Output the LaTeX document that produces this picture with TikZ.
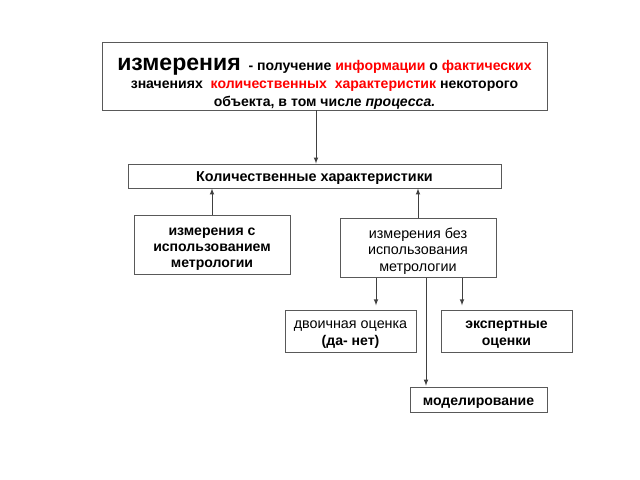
\documentclass[tikz,border=0pt]{standalone}
\usepackage{fontspec}
\setmainfont{Liberation Sans}
\usepackage{xcolor}
\newcommand{\hstrut}[1]{\rule{0pt}{#1}}
\newcommand{\dstrut}{\rule[-2.2pt]{0pt}{2.2pt}}

\begin{document}
\begin{tikzpicture}[x=0.025cm,y=-0.025cm,line width=0.6pt,
    box/.style = {draw = black!65, inner sep = 0pt, align = center,
      font = \bfseries\fontsize{10}{11.5}\selectfont},
    oneline/.style = {box, text height = 10pt, text depth = 1.8pt},
    link/.style = {->, >=latex, line width=0.5pt, draw = black!75}]
    \useasboundingbox (0,0) rectangle (640,480);
    % main definition
    \node[box, minimum width = 11.125cm, minimum height = 1.7cm,
      font = \bfseries\fontsize{10}{12.8}\selectfont] (top) at (324.5,76)
      {\hstrut{19.5pt}{\fontsize{16.4}{12.8}\selectfont измерения}\ \ - получение \textcolor{red}{информации} о \textcolor{red}{фактических}\\
       значениях \ \textcolor{red}{количественных\ \ характеристик} некоторого\\
       объекта, в том числе \textit{процесса.}\dstrut};
    \node[oneline, minimum width = 9.325cm, minimum height = 0.6cm,
      font = \bfseries\fontsize{10.2}{12}\selectfont] (quant) at (314.5,176)
      {Количественные характеристики};
    % two kinds of measurement
    \node[box, minimum width = 3.9cm, minimum height = 1.475cm] (withm) at (212,244.5)
      {\hstrut{12.5pt}измерения с\\ использованием\\ метрологии\dstrut};
    \node[box, minimum width = 3.9cm, minimum height = 1.475cm,
      font = \fontsize{10.2}{11.5}\selectfont] (withoutm) at (418,248)
      {\hstrut{12pt}измерения без\\ использования\\ метрологии\dstrut};
    % methods without metrology
    \node[box, minimum width = 3.275cm, minimum height = 1.05cm,
      font = \bfseries\fontsize{10}{12}\selectfont] (binary) at (350.5,331)
      {\hstrut{11pt}{\mdseries\fontsize{10.2}{12}\selectfont двоичная оценка}\\ (да- нет)\dstrut};
    \node[box, minimum width = 3.275cm, minimum height = 1.05cm,
      font = \bfseries\fontsize{10}{12}\selectfont] (expert) at (506.5,331)
      {\hstrut{11pt}экспертные\\ оценки\dstrut};
    \node[oneline, minimum width = 3.425cm, minimum height = 0.625cm] (model) at (478.5,400)
      {моделирование};

    \coordinate (a1) at (316,0);
    \coordinate (a2) at (376,0);
    \coordinate (a3) at (426,0);
    \coordinate (a4) at (462,0);
    \draw[link] (top.south -| a1) -- (quant.north -| a1);
    \draw[link] (withm.north) -- (withm.north |- quant.south);
    \draw[link] (withoutm.north) -- (withoutm.north |- quant.south);
    \draw[link, shorten >=3pt] (withoutm.south -| a2) -- (binary.north -| a2);
    \draw[link, shorten >=3pt] (withoutm.south -| a4) -- (expert.north -| a4);
    \draw[link, shorten >=1pt] (withoutm.south -| a3) -- (model.north -| a3);
\end{tikzpicture}
\end{document}
